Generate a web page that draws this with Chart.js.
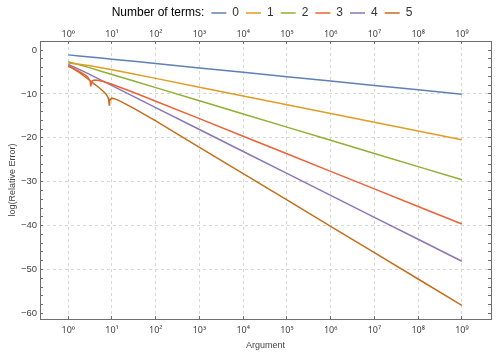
<!DOCTYPE html>
<html lang="en">
<head>
<meta charset="UTF-8">
<title>Relative error vs argument</title>
<script src="https://cdn.jsdelivr.net/npm/chart.js@4.4.0/dist/chart.umd.min.js"></script>
<style>
  html, body { margin: 0; padding: 0; background: #fff; }
  #wrap { width: 500px; height: 359px; }
</style>
</head>
<body>
<div id="wrap"><canvas id="errChart" width="500" height="359"></canvas></div>
<script>
  // number of series terms kept, one curve each
  const TERMS = ['0', '1', '2', '3', '4', '5'];
  const COLORS = ['#5e81b5', '#e19c24', '#8fb032', '#eb6235', '#8778b3', '#c56e1a'];

  // arguments shared by the smooth curves
  const ARGS = [1, 1.78, 3.16, 5.62, 10, 31.6, 100, 1e3, 1e4, 1e5, 1e6, 1e7, 1e8, 1e9];
  const ERR0 = [-1.11, -1.34, -1.59, -1.83, -2.08, -2.58, -3.08, -4.08, -5.08, -6.08, -7.08, -8.08, -9.08, -10.08];
  const ERR1 = [-2.99, -3.22, -3.59, -4.02, -4.49, -5.47, -6.46, -8.46, -10.46, -12.46, -14.46, -16.46, -18.46, -20.46];
  const ERR2 = [-2.66, -3.34, -4.07, -4.82, -5.57, -7.07, -8.57, -11.57, -14.57, -17.57, -20.57, -23.57, -26.57, -29.57];
  const ERR4 = [-3.30, -4.40, -5.62, -6.86, -8.11, -10.61, -13.11, -18.11, -23.11, -28.11, -33.11, -38.11, -43.11, -48.11];

  // 3 terms: sign change of the error near 3.3
  const ARGS3 = [1, 1.78, 2.51, 2.82, 3.16, 3.24, 3.27, 3.31, 3.35, 3.39, 3.55, 3.98, 5.01, 6.31, 10, 31.6, 100, 1e3, 1e4, 1e5, 1e6, 1e7, 1e8, 1e9];
  const ERR3 = [-3.54, -4.9, -5.79, -6.24, -7.02, -7.42, -7.72, -8.3, -7.72, -7.42, -7.04, -6.83, -6.93, -7.18, -7.82, -9.69, -11.66, -15.64, -19.64, -23.64, -27.64, -31.64, -35.64, -39.64];

  // 5 terms: sign change near 8.6
  const ARGS5 = [1, 1.26, 1.78, 2.51, 3.16, 3.98, 5.01, 6.31, 7.41, 8.13, 8.41, 8.65, 8.81, 9.02, 9.44, 10, 12.6, 15.8, 31.6, 100, 1e3, 1e4, 1e5, 1e6, 1e7, 1e8, 1e9];
  const ERR5 = [-3.65, -4.2, -5.1, -6.2, -7.0, -7.75, -8.55, -9.4, -10.15, -10.8, -11.3, -12.5, -11.7, -11.35, -11.1, -10.97, -11.25, -11.69, -13.29, -16.16, -22.16, -28.16, -34.16, -40.16, -46.16, -52.16, -58.16];

  // axis ticks
  const DECADES = [0, 1, 2, 3, 4, 5, 6, 7, 8, 9];
  const SUP = ['\u2070', '\u00b9', '\u00b2', '\u00b3', '\u2074', '\u2075', '\u2076', '\u2077', '\u2078', '\u2079'];
  const Y_LABELS = [0, -10, -20, -30, -40, -50, -60];
  const Y_GRID = [-10, -20, -30, -40, -50];

  const X_MIN = 0.226, X_MAX = 4.64e9;
  const Y_MIN = -61.27, Y_MAX = 2.05;

  const seriesArgs = [ARGS, ARGS, ARGS, ARGS3, ARGS, ARGS5];
  const seriesErr = [ERR0, ERR1, ERR2, ERR3, ERR4, ERR5];

  const datasets = TERMS.map((t, i) => ({
    label: t,
    data: seriesArgs[i].map((a, j) => ({ x: a, y: seriesErr[i][j] })),
    borderColor: COLORS[i],
    backgroundColor: COLORS[i],
    borderWidth: 1.5,
    pointRadius: 0,
    pointStyle: 'line',
    tension: 0,
    fill: false
  }));

  Chart.defaults.font.family = '"Liberation Sans", Arial, sans-serif';

  const tickFont = { size: 9.5 };
  const expFont = { family: '"Noto Sans", "DejaVu Sans", sans-serif', size: 9 };
  const labelColor = '#444';
  const frameColor = '#6e6e6e';
  const gridColor = '#d6d6d6';

  function decadeTicks(scale) {
    scale.ticks = DECADES.map(e => ({ value: Math.pow(10, e) }));
  }
  function yTicks(scale) {
    const out = [];
    for (let v = -60; v <= 2; v += 2) out.push({ value: v });
    scale.ticks = out;
  }
  function decadeLabel(v) {
    return '10' + SUP[Math.round(Math.log10(v))];
  }
  function yLabel(v) {
    if (!Y_LABELS.includes(v)) return '';
    return v < 0 ? '\u2212' + Math.abs(v) : String(v);
  }

  const blank = {
    fillStyle: 'rgba(0,0,0,0)',
    strokeStyle: 'rgba(0,0,0,0)',
    lineWidth: 0,
    pointStyle: 'line',
    hidden: false,
    datasetIndex: -1
  };

  new Chart(document.getElementById('errChart'), {
    type: 'line',
    data: { datasets },
    options: {
      responsive: false,
      animation: false,
      devicePixelRatio: 1,
      layout: { padding: 0 },
      plugins: {
        tooltip: { enabled: false },
        legend: {
          position: 'top',
          fullSize: false,
          maxHeight: 24,
          onClick: null,
          labels: {
            usePointStyle: true,
            pointStyle: 'line',
            pointStyleWidth: 15,
            padding: 7,
            color: '#333',
            font: { size: 12 },
            generateLabels(chart) {
              const items = Chart.defaults.plugins.legend.labels.generateLabels(chart);
              items.unshift(Object.assign({ text: 'Number of terms:' }, blank));
              // empty slot at the end keeps the row centred like the original
              items.push(Object.assign({ text: '' }, blank));
              return items;
            }
          }
        }
      },
      scales: {
        x: {
          type: 'logarithmic',
          position: 'bottom',
          min: X_MIN,
          max: X_MAX,
          bounds: 'data',
          afterBuildTicks: decadeTicks,
          afterFit: s => { s.height = 40; },
          ticks: { autoSkip: false, maxRotation: 0, padding: 9, color: labelColor, font: expFont, callback: decadeLabel },
          grid: { color: gridColor, lineWidth: 1, tickLength: -3, tickColor: frameColor },
          border: { color: frameColor, width: 1, dash: [3, 3] },
          title: { display: true, text: 'Argument', color: labelColor, font: { size: 9 }, padding: { top: 0, bottom: 8 } }
        },
        x2: {
          type: 'logarithmic',
          position: 'top',
          min: X_MIN,
          max: X_MAX,
          bounds: 'data',
          afterBuildTicks: decadeTicks,
          afterFit: s => { s.height = 17; },
          ticks: { autoSkip: false, maxRotation: 0, padding: 4, color: labelColor, font: expFont, callback: decadeLabel },
          grid: { drawOnChartArea: false, tickLength: -3, tickColor: frameColor },
          border: { color: frameColor, width: 1 }
        },
        y: {
          type: 'linear',
          position: 'left',
          min: Y_MIN,
          max: Y_MAX,
          afterBuildTicks: yTicks,
          afterFit: s => { s.width = 40; },
          ticks: { autoSkip: false, padding: 6, color: labelColor, font: tickFont, callback: yLabel },
          grid: {
            color: c => Y_GRID.includes(c.tick && c.tick.value) ? gridColor : 'rgba(0,0,0,0)',
            lineWidth: 1,
            tickLength: -3,
            tickColor: frameColor
          },
          border: { color: frameColor, width: 1, dash: [3, 3] },
          title: { display: true, text: 'log(Relative Error)', color: labelColor, font: { size: 9 }, padding: { top: 7, bottom: 0 } }
        },
        y2: {
          type: 'linear',
          position: 'right',
          min: Y_MIN,
          max: Y_MAX,
          afterBuildTicks: yTicks,
          afterFit: s => { s.width = 9; },
          ticks: { display: false },
          grid: { drawOnChartArea: false, tickLength: -3, tickColor: frameColor },
          border: { color: frameColor, width: 1 }
        }
      }
    }
  });
</script>
</body>
</html>
